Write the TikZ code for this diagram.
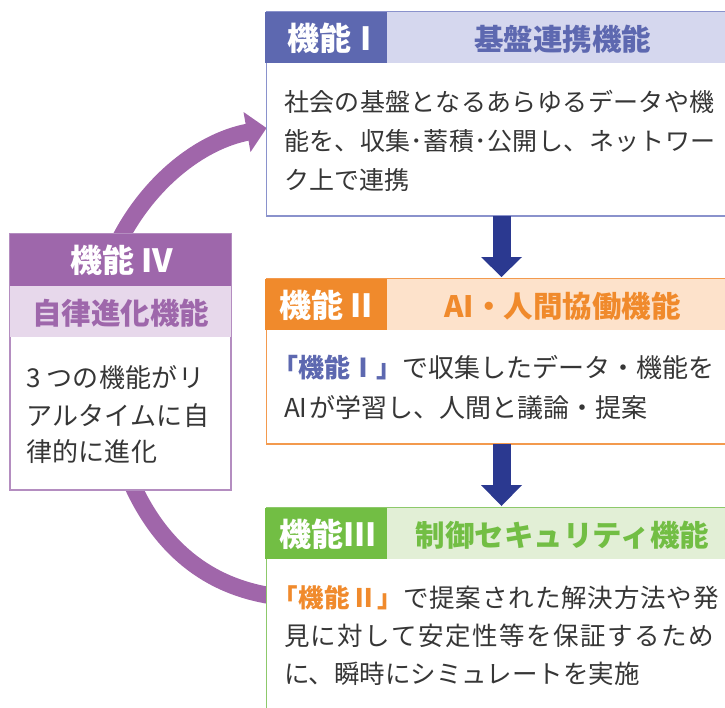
\documentclass[tikz,border=0pt]{standalone}
\usepackage{fontspec}
\setmainfont{Noto Sans CJK JP}
\usetikzlibrary{calc}
\definecolor{aDark}{HTML}{5D68B0}
\definecolor{aLight}{HTML}{D5D7EE}
\definecolor{aLine}{HTML}{8A92CC}
\definecolor{bDark}{HTML}{F08A2C}
\definecolor{bLight}{HTML}{FDE2CB}
\definecolor{bLine}{HTML}{F39A4E}
\definecolor{cDark}{HTML}{72BE44}
\definecolor{cLight}{HTML}{E2EFD6}
\definecolor{cLine}{HTML}{8DC96B}
\definecolor{dDark}{HTML}{9E67AB}
\definecolor{dLight}{HTML}{E7D8EB}
\definecolor{dLine}{HTML}{B48DC0}
\definecolor{arcCol}{HTML}{A066AA}
\definecolor{flowBlue}{HTML}{2B3990}
\definecolor{bodyGray}{HTML}{363636}
\newcommand{\LS}[2]{{\addfontfeature{LetterSpace=#1}#2}}
\begin{document}
\begin{tikzpicture}[x=1pt,y=-1pt,
  panel/.style={draw=#1, line width=1.6pt, fill=white, inner sep=0pt, outer sep=0pt, anchor=north west, minimum width=470pt},
  hdr/.style={fill=#1, inner sep=0pt, outer sep=0pt, anchor=north west, minimum height=51pt, text height=25pt, text depth=0pt, font=\fontsize{29.5}{30}\selectfont\bfseries},
  hlabel/.style={inner sep=0pt, outer sep=0pt, anchor=west, text=white, text height=25pt, text depth=0pt, font=\fontsize{32}{32}\selectfont\bfseries},
  body/.style={inner sep=0pt, outer sep=0pt, anchor=base west, text=bodyGray, font=\fontsize{#1}{30}\selectfont},
  arcline/.style={draw=arcCol, line width=17pt},
  flow/.style={draw=flowBlue, line width=18pt}
]
\clip (0,0) rectangle (725,707);

% coordinates of panels (for arcs, declared before panels are drawn)
\coordinate (p1) at (266.5,12);
\coordinate (p3) at (266.5,508);
\coordinate (p4) at (10,234);

% purple evolution arcs (behind panels)
\draw[arcline] ($(p4)+(102,22)$) .. controls ($(p4)+(130,-44)$) and ($(p1)+(-71,130)$) .. ($(p1)+(-18,120)$);
\fill[arcCol] ($(p1)+(0,116)$) -- ($(p1)+(-23,100)$) -- ($(p1)+(-16,140)$) -- cycle;
\draw[arcline] ($(p4)+(118,241)$) .. controls ($(p4)+(145,306)$) and ($(p3)+(-66,77)$) .. ($(p3)+(6,88)$);

% ---------- Panel I ----------
\node[panel=aLine, minimum height=204pt] (b1) at (p1) {};
\node[hdr=aDark, minimum width=121.3pt] (h1d) at ($(b1.north west)+(-1.3,0)$) {};
\node[hlabel, xshift=21.8pt] (l1) at (h1d.west) {機能\hspace{9.5pt}I};
\node[hdr=aLight, minimum width=352pt, text=aDark] (h1l) at (h1d.north east) {基盤連携機能};
\node[body=25] (t1a) at ($(b1.north west)+(17.5,99)$) {\LS{1.6}{社会の基盤となるあらゆるデータや機}};
\node[body=25] (t1b) at ($(b1.north west)+(17.5,138.5)$) {\LS{1.6}{能を、収集･蓄積･公開し、ネットワー}};
\node[body=25] (t1c) at ($(b1.north west)+(17.5,177)$) {ク上で連携};

% ---------- Panel II ----------
\node[panel=bLine, minimum height=165pt] (b2) at (266.5,279) {};
\node[hdr=bDark, minimum width=121.3pt] (h2d) at ($(b2.north west)+(-1.3,0)$) {};
\node[hlabel, xshift=13.8pt] (l2) at (h2d.west) {機能\hspace{7.5pt}II};
\node[hdr=bLight, minimum width=352pt, text=bDark] (h2l) at (h2d.north east) {AI・人間協働機能};
\node[body=26] (t2a) at ($(b2.north west)+(5.5,98)$) {{\bfseries\color{aDark}「機能Ⅰ」}で収集したデータ・機能を};
\node[body=26] (t2b) at ($(b2.north west)+(17.5,138)$) {AI\hspace{2pt}が学習し、人間と議論・提案};

% ---------- Panel III ----------
\node[panel=cLine, minimum height=215pt] (b3) at (p3) {};
\node[hdr=cDark, minimum width=121.3pt] (h3d) at ($(b3.north west)+(-1.3,0)$) {};
\node[hlabel, xshift=13.8pt] (l3) at (h3d.west) {機能III};
\node[hdr=cLight, minimum width=352pt, text=cDark] (h3l) at (h3d.north east) {制御セキュリティ機能};
\node[body=25.5] (t3a) at ($(b3.north west)+(5.5,99)$) {\LS{3.5}{{\bfseries\color{bDark}「機能Ⅱ」}で提案された解決方法や発}};
\node[body=25.5] (t3b) at ($(b3.north west)+(17.5,137.5)$) {\LS{5.9}{見に対して安定性等を保証するため}};
\node[body=25.5] (t3c) at ($(b3.north west)+(17.5,175.5)$) {に、瞬時にシミュレートを実施};

% ---------- Panel IV ----------
\node[panel=dLine, minimum width=221pt, minimum height=256pt] (b4) at (p4) {};
\node[hdr=dDark, minimum width=221pt, minimum height=52pt] (h4d) at (b4.north west) {};
\node[hlabel, xshift=60.7pt] (l4) at (h4d.west) {機能\hspace{7pt}IV};
\node[hdr=dLight, minimum width=221pt, text=dDark] (h4l) at (h4d.south west) {自律進化機能};
\node[body=26] (t4a) at ($(b4.north west)+(16,153.5)$) {\LS{1.2}{3 つの機能がリ}};
\node[body=26] (t4b) at ($(b4.north west)+(16,191)$) {\LS{1.2}{アルタイムに自}};
\node[body=26] (t4c) at ($(b4.north west)+(16,227)$) {\LS{1.2}{律的に進化}};

% ---------- flow arrows ----------
\draw[flow] (b1.south) -- ($(b2.north)+(0,-21)$);
\fill[flowBlue] ($(b2.north)+(-20.5,-22)$) -- ($(b2.north)+(0,-2)$) -- ($(b2.north)+(20.5,-22)$) -- cycle;
\draw[flow] (b2.south) -- ($(b3.north)+(0,-22)$);
\fill[flowBlue] ($(b3.north)+(-20.5,-23)$) -- ($(b3.north)+(0,-2)$) -- ($(b3.north)+(20.5,-23)$) -- cycle;
\end{tikzpicture}
\end{document}
